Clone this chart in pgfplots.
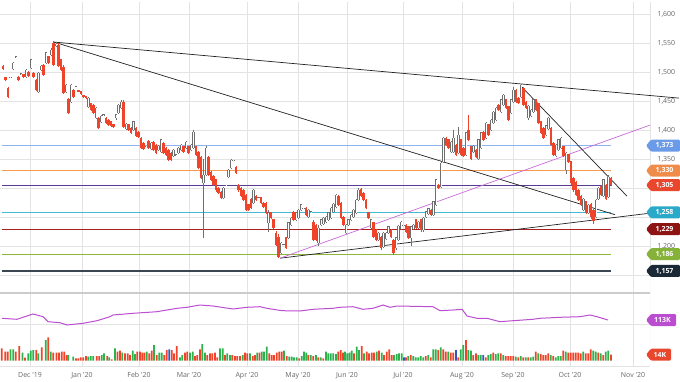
\documentclass[border=0pt]{standalone}
\usepackage{fontspec}
\setmainfont{Open Sans}
\usepackage{pgfplots}
\usepackage{pgfplotstable}
\pgfplotsset{compat=1.18}
\definecolor{gridc}{HTML}{E3E3E3}
\definecolor{labc}{HTML}{666666}
\definecolor{candR}{HTML}{F0442A}
\definecolor{candU}{HTML}{6E6E6E}
\definecolor{lvlblue}{HTML}{8DB3F0}
\definecolor{tagblue}{HTML}{6B9BE8}
\definecolor{lvlorange}{HTML}{F59A4E}
\definecolor{tagorange}{HTML}{F08C4A}
\definecolor{lvlindigo}{HTML}{5A3A92}
\definecolor{tagred}{HTML}{E8472E}
\definecolor{lvlcyan}{HTML}{45B8D3}
\definecolor{tagcyan}{HTML}{2AAAC8}
\definecolor{lvldred}{HTML}{A82222}
\definecolor{tagdred}{HTML}{8E1414}
\definecolor{lvlgreen}{HTML}{8DB83A}
\definecolor{taggreen}{HTML}{86B23A}
\definecolor{lvlnavy}{HTML}{3A4652}
\definecolor{tagnavy}{HTML}{1B2836}
\definecolor{purp}{HTML}{BB4DD0}
\definecolor{volg}{HTML}{2BB24C}
\definecolor{volr}{HTML}{F1432A}
\definecolor{volb}{HTML}{3553C8}
\definecolor{trend}{HTML}{222222}
\definecolor{magl}{HTML}{C86AD8}

\newcommand{\pricetag}[4]{%
  \begin{scope}[shift={(#1)}]
  \fill[#2, rounded corners=1.2bp] (0,0) -- (5bp,6bp) -- (#4,6bp) -- (#4,-6bp) -- (5bp,-6bp) -- cycle;
  \node[text=white, font=\fontsize{7}{8}\selectfont\bfseries, inner sep=0pt, anchor=center] at ($(3bp,0)!0.5!(#4,0)$) {#3};
  \end{scope}}
\usetikzlibrary{calc}

% bullish candles: x open high low close
\pgfplotstableread{
x o h l c
10.5 1490 1492 1489 1491
13 1505 1517 1503 1515
16 1525 1527 1524 1526
21 1495 1498 1494 1497
26 1491 1505 1489 1503
31 1507 1523 1505 1521
38.5 1465 1500 1463 1498
41 1503 1512 1501 1510
46 1515 1535 1513 1533
51 1529 1541 1527 1538
56 1545 1552 1543 1548
66 1466 1479 1464 1477
71 1448 1480 1446 1477
76 1474 1476 1473 1475
88.5 1440 1457 1438 1455
96 1421 1440 1419 1438
101 1414 1426 1412 1424
103.5 1425 1427 1424 1426
116 1420 1428 1418 1426
118.5 1429 1445 1427 1443
121 1438 1452 1436 1448
126 1402 1412 1400 1410
133.5 1400 1416 1398 1414
146 1371 1373 1370 1372
151 1367 1379 1365 1377
158.5 1365 1374 1363 1372
161 1362 1385 1360 1383
173.5 1355 1367 1353 1365
176 1356 1358 1355 1357
178.5 1360 1371 1358 1369
181 1365 1376 1363 1374
186 1369 1381 1367 1379
191 1365 1376 1363 1374
193.5 1369 1400 1367 1396
203.5 1308 1350 1214 1322
206 1322 1372 1320 1369
223.5 1283 1302 1281 1300
226 1304 1306 1303 1305
228.5 1319 1333 1317 1331
231 1334 1350 1332 1348
233.5 1347 1349 1346 1348
253.5 1274 1298 1272 1296
258.5 1282 1284 1281 1283
268.5 1240 1262 1224 1257
281 1188 1207 1186 1205
283.5 1201 1203 1200 1202
288.5 1214 1242 1212 1240
291 1236 1250 1234 1248
296 1245 1259 1243 1257
298.5 1248 1264 1246 1262
301 1262 1273 1260 1271
303.5 1264 1266 1263 1265
308.5 1250 1264 1248 1262
311 1258 1260 1257 1259
318.5 1205 1236 1200 1231
321 1236 1247 1234 1245
323.5 1238 1250 1236 1248
326 1241 1252 1239 1250
328.5 1245 1259 1243 1257
331 1248 1267 1246 1265
333.5 1259 1274 1257 1272
336 1267 1290 1265 1288
346 1222 1238 1220 1236
348.5 1236 1247 1234 1245
351 1245 1255 1243 1253
353.5 1250 1264 1248 1262
356 1257 1281 1255 1279
358.5 1279 1300 1277 1296
371 1231 1247 1229 1245
378.5 1210 1224 1208 1222
383.5 1198 1224 1196 1222
386 1212 1224 1210 1222
388.5 1222 1235 1220 1233
396 1196 1216 1194 1214
398.5 1210 1236 1208 1234
401 1229 1243 1227 1241
403.5 1235 1237 1234 1236
411 1214 1235 1200 1233
413.5 1229 1238 1227 1236
418.5 1231 1243 1229 1241
423.5 1227 1250 1225 1248
426 1250 1261 1248 1259
428.5 1255 1266 1253 1264
433.5 1253 1278 1251 1276
436 1271 1316 1269 1314
441 1302 1345 1300 1343
443.5 1345 1388 1343 1386
451 1362 1381 1360 1379
453.5 1362 1400 1360 1386
458.5 1360 1405 1358 1391
466 1357 1397 1355 1395
473.5 1362 1374 1360 1372
478.5 1350 1385 1348 1383
481 1369 1397 1367 1395
486 1386 1414 1384 1412
491 1400 1419 1398 1417
493.5 1412 1433 1410 1431
496 1417 1440 1415 1438
501 1431 1454 1429 1452
503.5 1443 1462 1441 1460
511 1429 1454 1427 1452
513.5 1448 1474 1446 1469
521 1457 1479 1455 1477
528.5 1420 1443 1418 1441
531 1424 1436 1422 1434
533.5 1431 1454 1429 1452
546 1391 1409 1389 1407
548.5 1402 1422 1400 1420
556 1355 1376 1353 1374
558.5 1365 1385 1363 1383
561 1369 1388 1367 1386
566 1331 1362 1324 1360
583.5 1262 1283 1260 1281
588.5 1257 1272 1255 1270
596 1250 1281 1248 1279
598.5 1281 1302 1279 1300
603.5 1286 1316 1284 1314
608.5 1284 1322 1282 1319
}\upc

% bearish candles: x open high low close
\pgfplotstableread{
x o h l c
3 1510 1512 1504 1506
5.5 1490 1491 1484 1486
8 1472 1474 1455 1457
18.5 1491 1493 1484 1486
23.5 1495 1496 1490 1491
28.5 1500 1502 1491 1493
33.5 1498 1500 1489 1491
36 1486 1488 1467 1469
43.5 1512 1514 1493 1495
48.5 1526 1528 1513 1515
53.5 1550 1553 1510 1512
58.5 1546 1550 1508 1510
61 1521 1523 1501 1503
63.5 1508 1512 1462 1464
68.5 1452 1455 1427 1429
73.5 1469 1471 1455 1457
78.5 1468 1469 1465 1466
81 1466 1467 1461 1462
83.5 1460 1461 1456 1457
86 1458 1459 1454 1455
91 1445 1447 1432 1434
93.5 1443 1445 1427 1429
98.5 1420 1422 1401 1403
106 1420 1422 1410 1412
108.5 1417 1419 1407 1409
111 1414 1416 1405 1407
113.5 1409 1410 1403 1405
123.5 1448 1452 1403 1405
128.5 1409 1411 1398 1400
131 1403 1405 1393 1395
136 1403 1405 1388 1390
138.5 1396 1398 1386 1388
141 1386 1388 1367 1369
143.5 1377 1379 1365 1367
148.5 1381 1383 1367 1369
153.5 1379 1381 1363 1365
156 1374 1376 1358 1360
163.5 1377 1379 1358 1360
166 1369 1371 1355 1357
168.5 1365 1367 1346 1348
171 1360 1362 1346 1348
183.5 1371 1373 1360 1362
188.5 1371 1373 1358 1360
196 1371 1373 1355 1357
198.5 1362 1364 1332 1334
201 1353 1355 1315 1317
208.5 1353 1355 1320 1322
211 1327 1329 1312 1314
213.5 1320 1322 1303 1305
216 1314 1316 1294 1296
218.5 1300 1302 1289 1291
221 1293 1295 1281 1283
236 1336 1338 1324 1326
238.5 1305 1307 1294 1296
241 1300 1302 1284 1286
243.5 1296 1298 1277 1279
246 1288 1290 1260 1262
248.5 1271 1273 1260 1262
251 1281 1283 1263 1265
256 1286 1288 1277 1279
261 1283 1285 1272 1274
263.5 1274 1276 1265 1267
266 1274 1276 1255 1257
271 1257 1259 1246 1248
273.5 1245 1247 1229 1231
276 1222 1226 1200 1202
278.5 1215 1220 1179 1181
286 1214 1216 1195 1197
293.5 1258 1260 1243 1245
306 1265 1267 1251 1253
313.5 1241 1245 1208 1210
316 1236 1238 1208 1210
338.5 1286 1288 1269 1271
341 1274 1276 1246 1248
343.5 1250 1252 1234 1236
361 1298 1300 1284 1286
363.5 1291 1293 1277 1279
366 1279 1281 1263 1265
368.5 1257 1259 1246 1248
373.5 1240 1242 1213 1215
376 1227 1229 1208 1210
381 1215 1217 1194 1196
391 1227 1229 1213 1215
393.5 1210 1212 1185 1188
406 1236 1238 1222 1224
408.5 1233 1235 1212 1214
416 1245 1247 1229 1231
421 1245 1247 1225 1227
431 1262 1264 1251 1253
438.5 1305 1307 1298 1300
446 1386 1388 1372 1374
448.5 1383 1385 1367 1369
456 1374 1376 1355 1357
461 1383 1385 1355 1357
463.5 1369 1371 1353 1355
468.5 1400 1426 1381 1383
471 1371 1373 1348 1350
476 1365 1367 1351 1353
483.5 1396 1398 1381 1383
488.5 1409 1411 1389 1391
498.5 1443 1445 1432 1434
506 1452 1454 1436 1438
508.5 1440 1442 1415 1417
516 1469 1471 1446 1448
518.5 1455 1457 1444 1446
523.5 1472 1474 1441 1443
526 1448 1450 1436 1438
536 1452 1454 1432 1434
538.5 1445 1447 1410 1412
541 1414 1416 1393 1395
543.5 1403 1405 1384 1386
551 1403 1405 1372 1374
553.5 1377 1379 1355 1357
563.5 1371 1373 1353 1355
568.5 1357 1359 1343 1345
571 1345 1347 1306 1308
573.5 1317 1319 1294 1296
576 1310 1312 1286 1288
578.5 1296 1298 1277 1279
581 1286 1288 1269 1271
586 1276 1278 1255 1257
591 1272 1274 1246 1250
593.5 1262 1264 1238 1243
601 1303 1305 1286 1288
606 1305 1307 1279 1281
611 1317 1319 1303 1305
}\dnc

\pgfplotstableread{
x v
10.5 26.4
13.3 26.4
22.5 18.6
28.3 17.1
30.8 23.3
33.3 24.9
38.3 17.1
45.8 48.2
50.8 21.0
68.3 13.2
73.3 9.3
88.3 9.3
90.7 10.9
93.3 10.9
101.7 13.2
104 17.1
109.3 7.8
115 28.7
122.3 18.6
132.7 23.3
135 15.5
146.7 21.0
154 36.5
159.3 18.6
161.7 18.6
180 7.8
182.3 13.2
190 18.6
192.7 21.0
202.3 38.9
205 18.6
220 28.7
222.7 28.7
227.3 17.1
230 13.2
242.7 13.2
250 17.1
257.3 18.6
261.7 21.0
264 21.0
266.7 32.6
284 23.3
289.3 9.3
291.7 9.3
294 7.8
296.7 7.8
301.7 10.9
304 21.0
306.2 18.6
310.7 13.2
316 13.2
320.7 7.8
326 21.0
328.3 17.1
330.7 17.1
333.3 17.1
336 15.5
345 21.0
347.3 17.1
349.5 18.6
351.7 23.3
356.7 32.6
359 24.9
364 17.1
376.7 21.0
381.7 18.6
394 13.2
396.7 15.5
399 17.1
401.7 17.1
408.3 10.9
413.3 10.9
415.7 7.8
418.3 7.8
420.7 10.9
423.3 7.8
428.3 13.2
433.3 26.4
435.7 26.4
440.7 31.1
448.3 21.0
460.7 26.4
463.3 36.5
468.3 24.9
471 23.3
478.3 13.2
480.7 13.2
488.3 13.2
490.7 15.5
495.7 15.5
498.3 17.1
503.3 13.2
515.7 9.3
520.7 10.9
525.7 7.8
530.7 7.8
533.3 9.3
538.3 17.1
550.7 13.2
555.7 7.8
558.3 10.9
560.7 10.9
565.7 21.0
583.3 21.0
593.3 23.3
595.7 21.0
600.7 17.1
605.7 21.0
608.3 23.3
}\volgreen

\pgfplotstableread{
x v
1.7 28.7
5.3 21.0
7.8 21.0
15.8 21.0
19.2 34.2
25 7.0
36.2 24.9
41.7 31.1
48.3 54.4
53.3 18.6
56.4 18.6
59 18.6
61.7 21.0
64.2 21.0
66.7 13.2
76 5.4
78.3 5.4
80.7 7.8
83.3 7.8
86 10.9
96.7 10.9
99.3 10.9
107.3 10.9
111.7 3.1
117.5 21.0
120 23.3
125 17.1
127.7 17.1
130 13.2
137.3 21.0
140 21.0
142.3 18.6
144.5 18.6
149.3 17.1
151.7 23.3
156.7 13.2
164.3 13.2
166.7 24.9
171.7 24.9
174 17.1
176.7 34.2
185 18.6
187.3 21.0
195 10.9
197.3 13.2
200 26.4
207.3 13.2
210 17.1
212.3 17.1
215 18.6
217.3 7.8
225 13.2
232.3 13.2
235 10.9
237.3 10.9
240 10.9
245 18.6
247.3 17.1
252.7 10.9
255 13.2
259.5 18.6
269.3 17.1
271.7 13.2
274 13.2
276.7 18.6
279.3 21.0
281.7 21.0
286.7 10.9
299.3 5.4
308.3 13.2
313.3 10.9
318.3 7.8
323.3 5.4
338.3 21.0
340.7 24.9
342.9 18.6
354 17.1
361.7 34.2
366.7 21.0
369 17.1
371.7 18.6
374 18.6
379 23.3
384 13.2
386.7 21.0
389.3 26.4
391.7 13.2
406 7.8
410.7 13.2
425.7 10.9
430.7 7.8
438.3 24.9
443.3 26.4
445.7 21.0
450.7 18.6
453.3 18.6
458.3 7.8
466 48.2
473.3 13.2
476 17.1
485.7 7.8
493.3 18.6
500.7 17.1
505.7 10.9
508.3 10.9
510.7 10.9
513.3 10.9
518.3 7.8
523.3 7.8
528.3 7.8
535.7 21.0
540.7 15.5
543.3 13.2
545.7 13.2
548.3 17.1
553.3 10.9
563.3 23.3
568.3 18.6
570.7 18.6
573.3 18.6
575.7 18.6
578.3 18.6
580.7 17.1
585.7 17.1
588.3 17.1
590.7 26.4
598.3 18.6
603.3 13.2
611 14
}\volred

\pgfplotstableread{
x v
169.3 26.4
404 7.8
456 24.9
483.3 13.2
}\volblue

\pgfplotstableread{
x v
2 116.4
17 114.4
23 118.4
33 125
43 119.6
48 109.6
60 107.6
67 103
83 106.4
97 111.6
110 119.6
113 123
133 126.4
157 129.6
177 136.4
187 138.4
200 143
213 141
233 135
247 138.4
260 139.6
267 136.4
282 131.6
300 131
313 134.4
333 136.4
340 138.4
353 139.6
363 134.4
373 136.4
383 143
390 138.4
397 141
433 139.6
440 131.6
453 133
462 134.4
467 121
477 116.4
487 116.4
500 109.6
513 111.6
533 114.4
540 116.4
560 118.4
580 119.6
590 123
597 119.6
608 113
}\volavg

\begin{document}
\begin{tikzpicture}
\useasboundingbox (0,0) rectangle (680bp,-382bp);
\pgfplotsset{
  every axis/.append style={
    scale only axis, anchor=north west, width=650bp,
    xmin=0, xmax=650,
    axis line style={draw=none},
    major tick length=0pt,
    grid=major, grid style={draw=gridc, line width=0.8bp},
    tick label style={font=\fontsize{7}{8}\selectfont, text=labc},
    /pgf/number format/assume math mode=true,
    xtick={30,82,139,189,247,298,347,403,462,513,570,633},
  }
}
% ---------- price panel ----------
\begin{axis}[
  at={(0,-2bp)}, height=275bp,
  ymin=1146.6, ymax=1620.7,
  xticklabels={},
  ytick={1150,1200,1250,1300,1350,1400,1450,1500,1550,1600},
  yticklabels={{},{1,200},{},{},{1,350},{1,400},{1,450},{1,500},{1,550},{1,600}},
  yticklabel pos=right,
  yticklabel style={anchor=west, xshift=4bp},
  clip=false,
]
\draw[gridc, line width=0.8bp] (axis cs:650,1146.6) -- (axis cs:650,1620.7);
% support / resistance levels
\addplot[lvlblue, line width=1.2bp] coordinates {(2,1373) (611,1373)};
\addplot[lvlorange, line width=1.2bp] coordinates {(2,1330) (611,1330)};
\addplot[lvlindigo, line width=1.2bp] coordinates {(2,1305) (611,1305)};
\addplot[lvlcyan, line width=1.2bp] coordinates {(2,1258) (611,1258)};
\addplot[lvldred, line width=1.2bp] coordinates {(2,1229) (611,1229)};
\addplot[lvlgreen, line width=1.2bp] coordinates {(2,1186) (611,1186)};
\addplot[lvlnavy, line width=1.2bp] coordinates {(2,1157) (611,1157)};
% trend lines
\addplot[trend, line width=0.7bp] coordinates {(54,1551.6) (679,1455)};
\addplot[trend, line width=0.7bp] coordinates {(54,1551.6) (615,1254)};
\addplot[trend, line width=0.7bp] coordinates {(280,1179) (647,1256)};
\addplot[magl, line width=0.7bp] coordinates {(280,1179) (650,1408.5)};
\addplot[trend, line width=0.7bp] coordinates {(521,1475.7) (627,1286)};
% candles: wicks
\addplot[draw=none, forget plot, error bars/.cd, y dir=plus, y explicit, error mark=none,
  error bar style={draw=candU, line width=0.6bp}]
  table[x=x, y=l, y error expr=\thisrow{h}-\thisrow{l}] {\upc};
\addplot[draw=none, forget plot, error bars/.cd, y dir=plus, y explicit, error mark=none,
  error bar style={draw=candR, line width=0.6bp}]
  table[x=x, y=l, y error expr=\thisrow{h}-\thisrow{l}] {\dnc};
% bodies
\addplot[draw=none, forget plot, error bars/.cd, y dir=plus, y explicit, error mark=none,
  error bar style={draw=candU, line width=2.3bp}]
  table[x=x, y=o, y error expr=\thisrow{c}-\thisrow{o}+0.8] {\upc};
\addplot[draw=none, forget plot, error bars/.cd, y dir=plus, y explicit, error mark=none,
  error bar style={draw=white, line width=0.9bp}]
  table[x=x, y=o, y error expr=\thisrow{c}-\thisrow{o}] {\upc};
\addplot[draw=none, forget plot, error bars/.cd, y dir=plus, y explicit, error mark=none,
  error bar style={draw=candR, line width=2.1bp}]
  table[x=x, y=c, y error expr=\thisrow{o}-\thisrow{c}+0.8] {\dnc};
\coordinate (t1) at (axis cs:646,1373);
\coordinate (t2) at (axis cs:646,1330);
\coordinate (t3) at (axis cs:646,1305);
\coordinate (t4) at (axis cs:646,1258);
\coordinate (t5) at (axis cs:646,1229);
\coordinate (t6) at (axis cs:646,1186);
\coordinate (t7) at (axis cs:646,1157);
\end{axis}
% ---------- volume panel ----------
\begin{axis}[
  at={(0,-277bp)}, height=89bp,
  ymin=-12.35, ymax=195,
  xticklabels={Dec \textquotesingle19, Jan \textquotesingle20, Feb \textquotesingle20, Mar \textquotesingle20, Apr \textquotesingle20, May \textquotesingle20, Jun \textquotesingle20, Jul \textquotesingle20, Aug \textquotesingle20, Sep \textquotesingle20, Oct \textquotesingle20, Nov \textquotesingle20},
  xticklabel style={yshift=-3bp},
  ytick={-12.3,85.5}, yticklabels={},
]
\draw[gridc, line width=0.8bp] (axis cs:650,-12.35) -- (axis cs:650,195);
\draw[gridc!90!black, line width=1.8bp] (axis cs:0,157.7) -- (axis cs:650,157.7);
\addplot[ybar, bar width=1.8bp, bar shift=0pt, fill=volg, draw=none] table[x=x,y=v] {\volgreen};
\addplot[ybar, bar width=1.8bp, bar shift=0pt, fill=volr, draw=none] table[x=x,y=v] {\volred};
\addplot[ybar, bar width=1.8bp, bar shift=0pt, fill=volb, draw=none] table[x=x,y=v] {\volblue};
\coordinate (t9) at (axis cs:646,14);
\end{axis}
% ---------- volume average line ----------
\begin{axis}[
  at={(0,-277bp)}, height=89bp,
  ymin=21, ymax=199,
  xtick=\empty, ytick=\empty, grid=none,
]
\addplot[purp, line width=1bp] table[x=x,y=v] {\volavg};
\coordinate (t8) at (axis cs:646,113);
\end{axis}
\pricetag{t1}{tagblue}{1,373}{34bp}
\pricetag{t2}{tagorange}{1,330}{34bp}
\pricetag{t3}{tagred}{1,305}{34bp}
\pricetag{t4}{tagcyan}{1,258}{34bp}
\pricetag{t5}{tagdred}{1,229}{34bp}
\pricetag{t6}{taggreen}{1,186}{34bp}
\pricetag{t7}{tagnavy}{1,157}{34bp}
\pricetag{t8}{purp}{113K}{30bp}
\pricetag{t9}{tagred}{14K}{25bp}
\end{tikzpicture}
\end{document}
